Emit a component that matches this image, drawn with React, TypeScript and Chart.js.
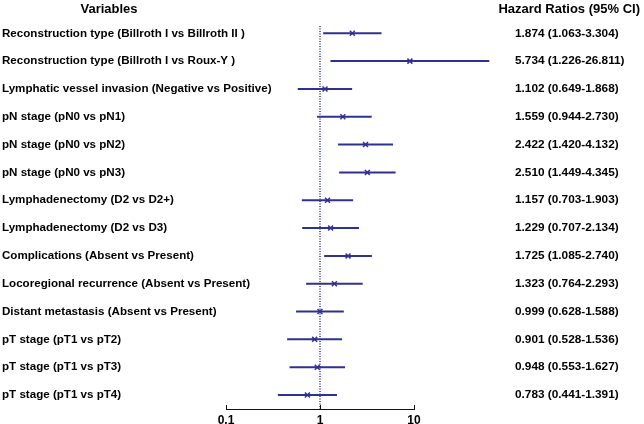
import React, { useEffect, useRef } from "react";
import { Chart, registerables } from "chart.js";

Chart.register(...registerables);

const FONT = '"Liberation Sans", Arial, Helvetica, sans-serif';

const leftTitle = "Variables";
const rightTitle = "Hazard Ratios (95% CI)";

const variables = [
  "Reconstruction type (Billroth I vs Billroth II )",
  "Reconstruction type (Billroth I vs Roux-Y )",
  "Lymphatic vessel invasion (Negative vs Positive)",
  "pN stage (pN0 vs pN1)",
  "pN stage (pN0 vs pN2)",
  "pN stage (pN0 vs pN3)",
  "Lymphadenectomy (D2 vs D2+)",
  "Lymphadenectomy (D2 vs D3)",
  "Complications (Absent vs Present)",
  "Locoregional recurrence (Absent vs Present)",
  "Distant metastasis (Absent vs Present)",
  "pT stage (pT1 vs pT2)",
  "pT stage (pT1 vs pT3)",
  "pT stage (pT1 vs pT4)",
];

const hr = [1.874, 5.734, 1.102, 1.559, 2.422, 2.51, 1.157, 1.229, 1.725, 1.323, 0.999, 0.901, 0.948, 0.783];
const ciLow = [1.063, 1.226, 0.649, 0.944, 1.42, 1.449, 0.703, 0.707, 1.085, 0.764, 0.628, 0.528, 0.553, 0.441];
const ciHigh = [3.304, 26.811, 1.868, 2.73, 4.132, 4.345, 1.903, 2.134, 2.74, 2.293, 1.588, 1.536, 1.627, 1.391];

const axisTicks = [0.1, 1, 10];

const hrLabels = hr.map(
  (v, i) => `${v.toFixed(3)} (${ciLow[i].toFixed(3)}-${ciHigh[i].toFixed(3)})`
);

const BLUE = "#2f3192";

const rowMin = -0.478;
const rowMax = 13.503;
const dataMin = 0.161;
const dataMax = 6.211;

export default function App() {
  const ref = useRef<HTMLCanvasElement | null>(null);

  useEffect(() => {
    if (!ref.current) return;

    const decor = {
      id: "decor",
      afterDraw(chart: any) {
        const { ctx } = chart;
        const xs = chart.scales.xAxis;
        ctx.save();
        ctx.strokeStyle = "#111";
        ctx.lineWidth = 1;
        xs.ticks.forEach((t: any) => {
          const px = Math.round(xs.getPixelForValue(t.value)) + 0.5;
          ctx.beginPath();
          ctx.moveTo(px, xs.top);
          ctx.lineTo(px, xs.top - 4);
          ctx.stroke();
        });
        ctx.fillStyle = "#000";
        ctx.font = `bold 13px ${FONT}`;
        ctx.textBaseline = "alphabetic";
        ctx.textAlign = "center";
        ctx.fillText(leftTitle, 109, 13);
        ctx.textAlign = "right";
        ctx.fillText(rightTitle, 640, 13);
        ctx.restore();
      },
    };

    const ciDatasets = hr.map((_, i) => ({
      type: "scatter" as const,
      label: variables[i],
      data: [
        { x: ciLow[i], y: i },
        { x: ciHigh[i], y: i },
      ],
      showLine: true,
      borderColor: BLUE,
      borderWidth: 2,
      pointRadius: 0,
      clip: false as any,
      order: 2,
      xAxisID: "x",
      yAxisID: "y",
    }));

    const noPad = (s: any) => {
      s.paddingTop = 0;
      s.paddingBottom = 0;
    };

    const chart = new Chart(ref.current, {
      type: "scatter",
      data: {
        datasets: [
          {
            label: "HR",
            data: hr.map((v, i) => ({ x: v, y: i })),
            pointStyle: "crossRot",
            pointRadius: 3.5,
            borderWidth: 1.5,
            borderColor: BLUE,
            backgroundColor: BLUE,
            order: 0,
            clip: false as any,
            xAxisID: "x",
            yAxisID: "y",
          },
          {
            label: "ref",
            data: [
              { x: 1, y: -0.262 },
              { x: 1, y: rowMax },
            ],
            showLine: true,
            borderColor: BLUE,
            borderWidth: 1.5,
            borderDash: [1, 1.5],
            pointRadius: 0,
            order: 1,
            clip: false as any,
            xAxisID: "x",
            yAxisID: "y",
          },
          ...ciDatasets,
        ],
      },
      options: {
        animation: false,
        responsive: false,
        maintainAspectRatio: false,
        layout: { autoPadding: false, padding: { left: 2, top: 20, right: 0, bottom: 0 } },
        plugins: {
          legend: { display: false },
          tooltip: { enabled: false },
          title: { display: false },
        },
        scales: {
          x: {
            type: "logarithmic",
            display: false,
            min: dataMin,
            max: dataMax,
            bounds: "data",
          },
          xAxis: {
            type: "logarithmic",
            position: "bottom",
            min: 0.1,
            max: 10,
            bounds: "data",
            afterBuildTicks: (s: any) => {
              s.ticks = axisTicks.map((v) => ({ value: v }));
            },
            afterFit: (s: any) => {
              s.height = 15;
            },
            grid: { display: false, drawTicks: false },
            border: { display: true, color: "#111", width: 1 },
            ticks: {
              autoSkip: false,
              maxRotation: 0,
              padding: 4,
              color: "#000",
              font: { family: FONT, size: 12, weight: "bold" },
              callback: (v: any) => String(v),
            },
          },
          y: {
            type: "linear",
            position: "left",
            reverse: true,
            min: rowMin,
            max: rowMax,
            bounds: "data",
            afterBuildTicks: (s: any) => {
              s.ticks = variables.map((_, i) => ({ value: i }));
            },
            afterFit: (s: any) => {
              s.width = 224;
              noPad(s);
            },
            grid: { display: false, drawTicks: false },
            border: { display: false },
            ticks: {
              autoSkip: false,
              mirror: true,
              crossAlign: "near",
              padding: -224,
              color: "#000",
              font: { family: FONT, size: 11.6, weight: "bold" },
              callback: (v: any) => variables[v] ?? "",
            },
          },
          y2: {
            type: "linear",
            position: "right",
            reverse: true,
            min: rowMin,
            max: rowMax,
            bounds: "data",
            afterBuildTicks: (s: any) => {
              s.ticks = hrLabels.map((_, i) => ({ value: i }));
            },
            afterFit: (s: any) => {
              s.width = 230;
              noPad(s);
            },
            grid: { display: false, drawTicks: false },
            border: { display: false },
            ticks: {
              autoSkip: false,
              crossAlign: "near",
              padding: 101,
              color: "#000",
              font: { family: FONT, size: 11.8, weight: "bold" },
              callback: (v: any) => hrLabels[v] ?? "",
            },
          },
        },
      } as any,
      plugins: [decor],
    });

    return () => chart.destroy();
  }, []);

  return (
    <div style={{ position: "absolute", left: 0, top: 0, width: 644, height: 424, background: "#fff" }}>
      <canvas ref={ref} width={644} height={424} style={{ display: "block" }} />
    </div>
  );
}
